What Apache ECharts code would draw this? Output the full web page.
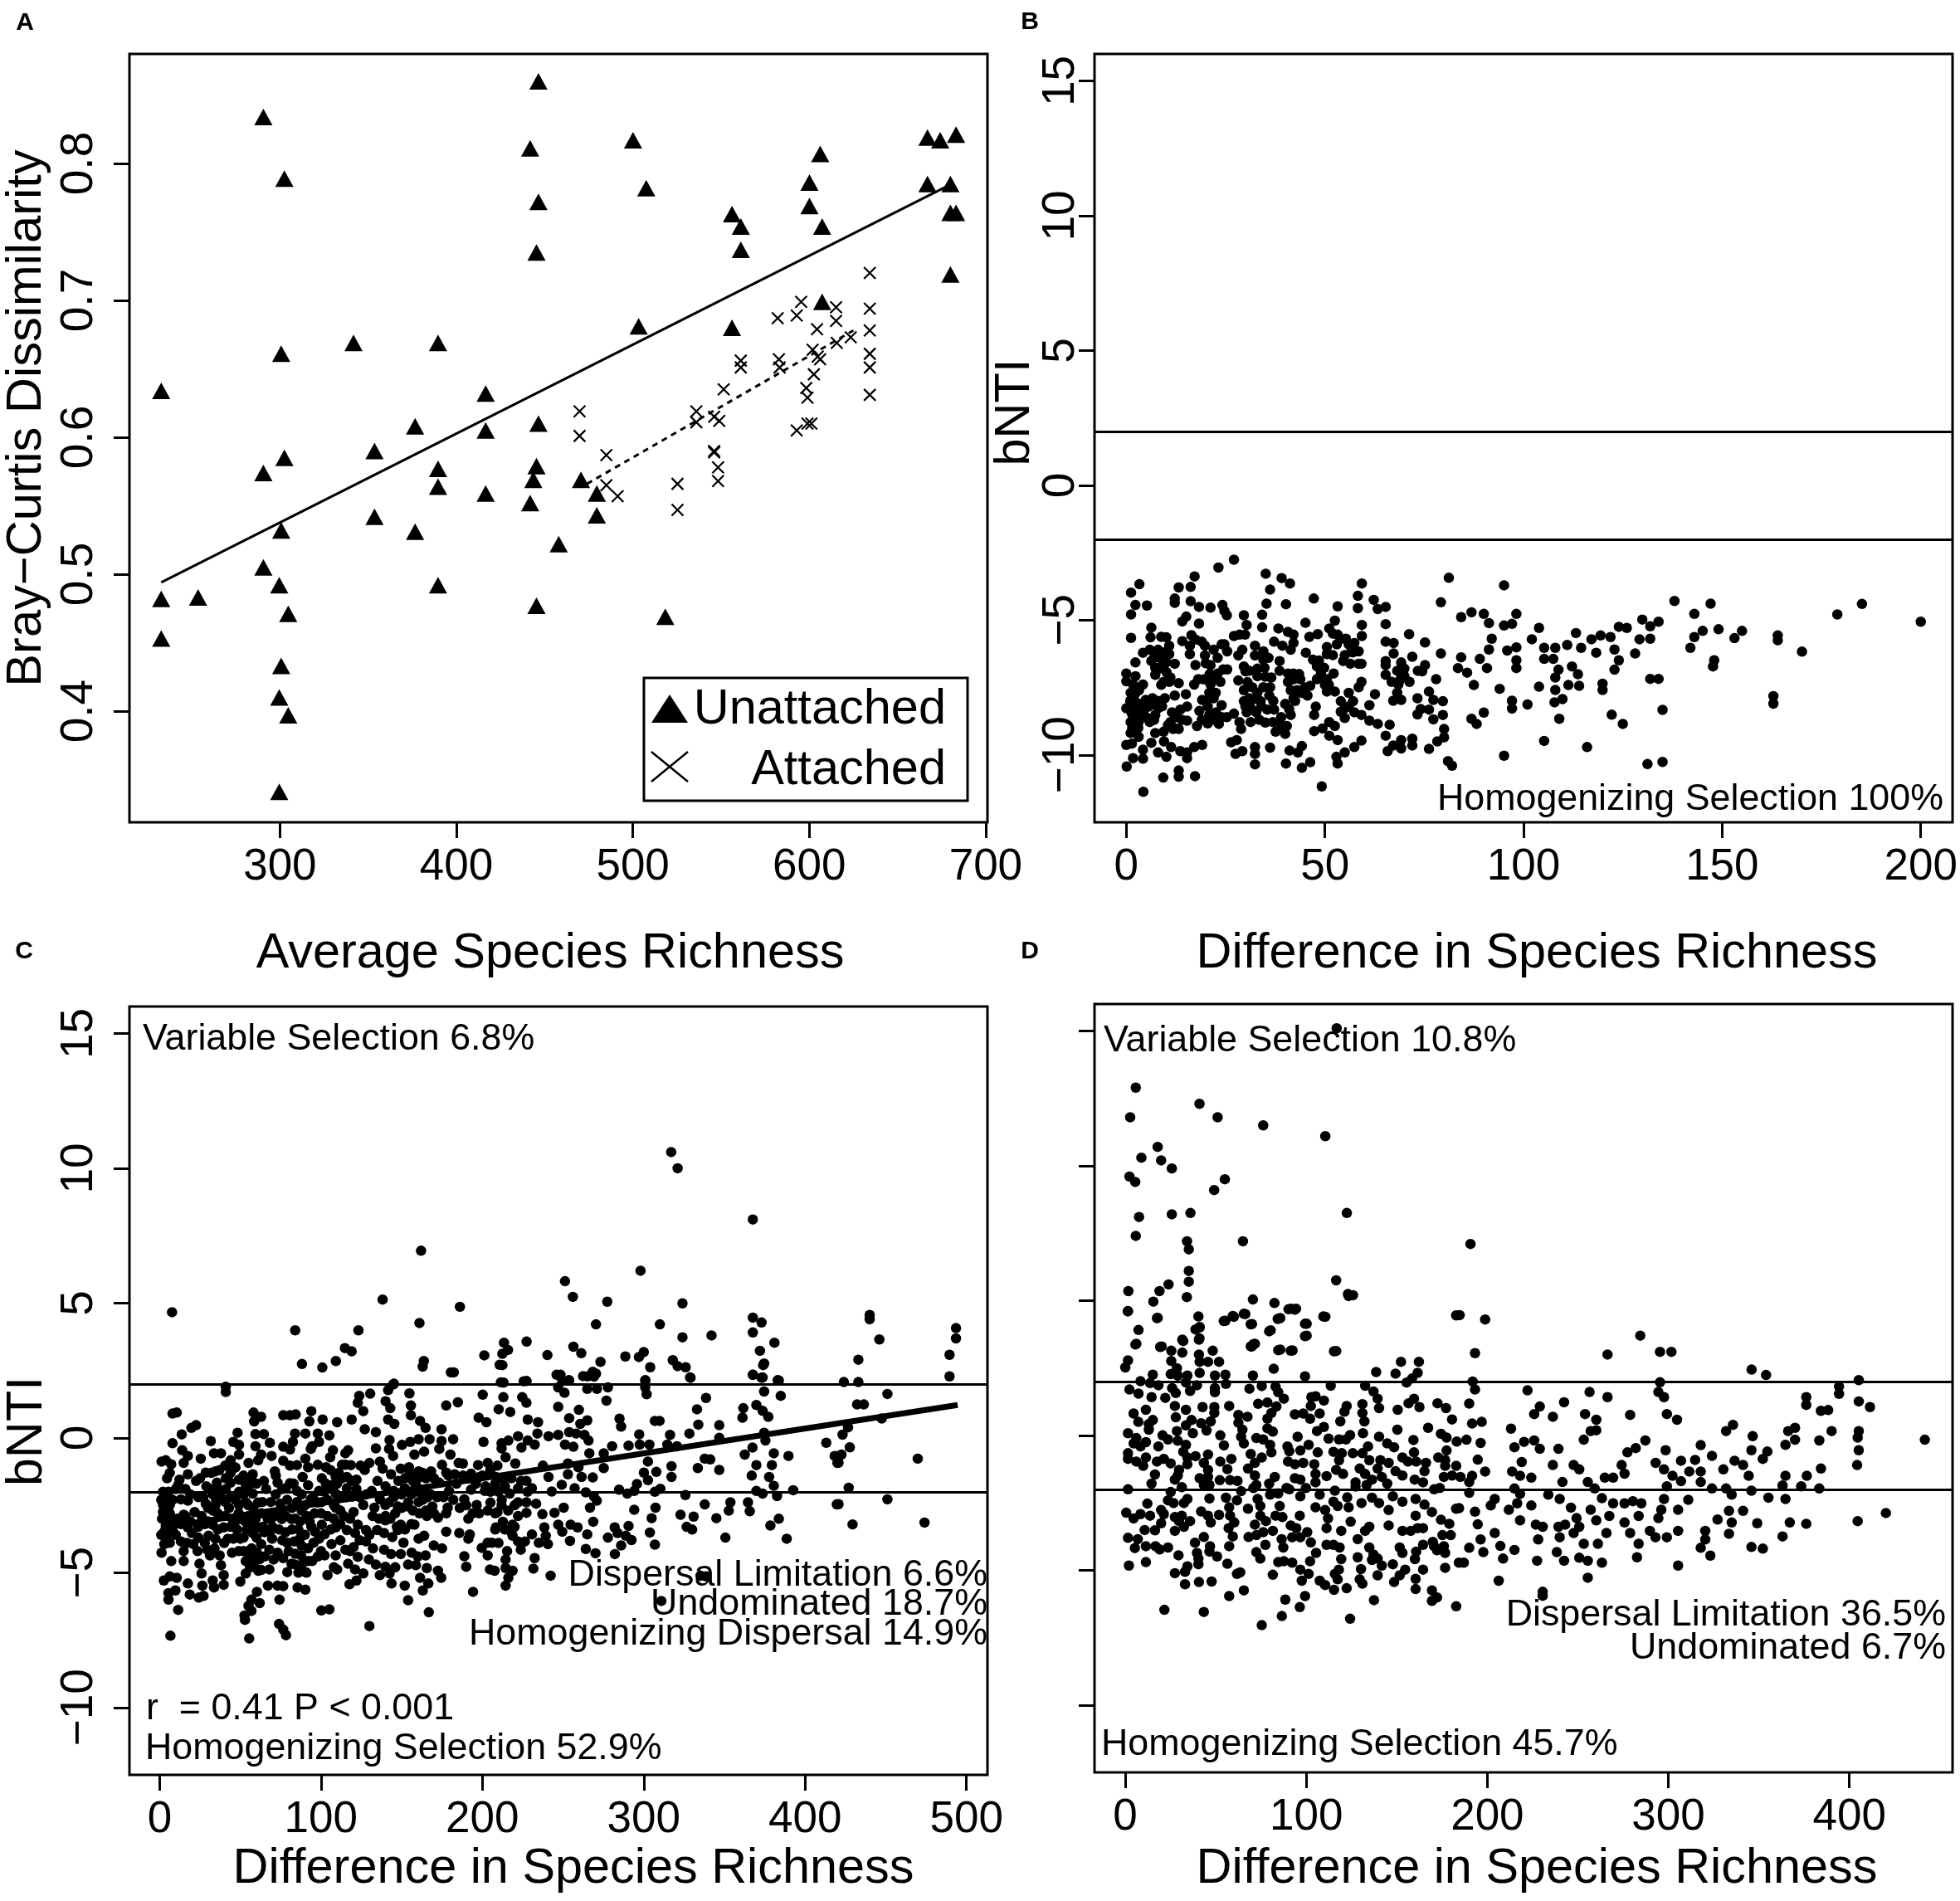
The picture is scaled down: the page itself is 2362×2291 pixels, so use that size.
<!DOCTYPE html>
<html><head><meta charset="utf-8">
<script src="https://cdn.jsdelivr.net/npm/echarts@6/dist/echarts.min.js"></script>
<style>html,body{margin:0;padding:0;background:#fff}#c{width:2362px;height:2291px}</style>
</head><body><div id="c"></div>
<script>
// ---- data: values, flat x,y,x,y lists ----
const unattached=[232.7,.634,232.7,.482,232.7,.453,253.6,.483,290.6,.834,302.5,.789,290.6,.574,302.5,.585,300.7,.661,300.7,.532,290.6,.505,299.6,.492,304.7,.471,300.7,.433,299.6,.41,304.7,.397,299.6,.341,341.7,.669,353.6,.59,353.6,.542,376.6,.608,376.6,.531,389.6,.669,389.6,.577,389.6,.564,389.6,.492,416.6,.632,416.6,.605,416.6,.559,441.8,.811,446.5,.86,446.5,.772,445.4,.735,446.5,.61,445.4,.579,443.6,.569,441.8,.552,445.4,.477,458,.522,470.6,.569,479.6,.559,479.6,.543,500.1,.817,507.6,.782,503.3,.681,518.4,.469,556.2,.763,561.2,.754,561.2,.737,556.2,.68,600.1,.786,600.1,.769,606.2,.807,607.3,.754,607.3,.699,667,.819,674.2,.817,683.2,.821,667,.785,680,.785,680,.764,683.2,.764,680,.719];
const attached=[469.8,.619,469.8,.601,485,.587,485,.565,491.4,.557,525.3,.566,525.3,.547,536,.619,536,.611,546.1,.615,549,.612,546.1,.59,546.1,.589,548.3,.578,548.3,.568,551.5,.635,561.2,.656,561.2,.651,582.1,.687,582.8,.657,583.2,.651,592.9,.689,595.4,.699,592.9,.605,598.3,.636,599,.629,599,.61,601.2,.61,601.9,.664,602.6,.646,604.4,.679,604.8,.659,606.2,.657,615.2,.695,615.2,.685,615.6,.669,623.5,.673,634.3,.72,634.3,.694,634.3,.678,634.3,.661,634.3,.651,634.3,.631];
const fitUnattached=[232.7,.494,677.5,.783];
const fitAttached=[474,.566,625,.678];
const fitC=[5,-3.3,494.5,1.22];
const thresholds=[2,-2];
const pointsB=[27.1,-2.76,23.2,-3.05,17.2,-3.38,3.3,-3.67,1.2,-3.98,13.2,-3.79,16.2,-3.77,12.2,-4.2,12.2,-4.36,16.2,-4.3,2.3,-4.44,5.2,-4.46,18.3,-4.51,21.2,-4.54,24.2,-4.44,24.7,-4.66,25.3,-4.82,1.2,-4.79,15.1,-4.87,14.1,-5.05,18.3,-5.13,6.3,-5.28,6.1,-5.64,1.2,-5.66,16.4,-5.56,14.1,-5.78,17.4,-5.72,10.1,-5.64,8.8,-5.62,16,-5.95,16,-6.26,4.2,-6.21,2.3,-6.57,5.9,-6.1,8,-6.1,10.8,-5.95,10.8,-6.26,6.3,-6.52,10.1,-6.57,12.2,-6.62,7.3,-6.77,7.3,-7.03,10.1,-6.93,11.1,-7.13,0,-6.98,0,-7.27,2.3,-7.08,4.2,-7.39,1.7,-7.39,1.1,-7.7,2.4,-7.7,2.1,-7.99,4.9,-7.96,6.6,-7.9,9.7,-7.9,5.6,-8.21,8,-8.27,0,-8.27,1.4,-8.47,3.5,-8.47,7.3,-8.52,1.1,-8.78,3.1,-8.78,5.9,-8.78,11.5,-8.42,13.6,-8.32,15.3,-8.21,11.1,-8.78,13.2,-9.04,15.3,-8.73,17.8,-8.93,20.5,-8.83,23.3,-8.85,18.4,-8.37,20.9,-8.52,24,-8.16,22.6,-8.42,11.8,-9.04,9.4,-9.14,7.3,-9.19,6.3,-9.55,1.1,-9.19,3.1,-9.33,0,-9.63,1.4,-9.58,4.2,-9.81,1.7,-10.12,4.2,-10.14,.1,-10.43,9.3,-10.84,13.2,-10.58,13.2,-10.81,17.3,-10.79,4.3,-11.37,8,-9.91,10.1,-10.07,11.3,-9.71,13.6,-9.86,15.3,-10.12,15.3,-9.91,17.1,-9.71,19.1,-9.63,13.2,-7.34,10.8,-7.29,9.4,-7.29,15,-7.75,12.2,-7.8,17.4,-6.67,18.1,-7.19,17.1,-7.39,19.8,-5.95,19.8,-6.31,21.2,-6.67,24,-5.9,25.4,-6.16,24.4,-6.83,25.4,-6.83,23,-6.98,23.7,-7.29,21.2,-7.39,19.1,-7.96,20.9,-7.08,20.9,-7.7,24.7,-5.9,27.1,-5.59,29.6,-4.82,30.3,-5.18,29.9,-5.54,28.5,-5.54,29.2,-6.1,28.2,-6.31,32.4,-5.95,32.4,-6.31,34.5,-6.16,34.5,-6.47,29.6,-6.72,31,-6.88,28.2,-7.24,33,-7.08,34.8,-6.77,36.5,-7.13,29.6,-7.6,31.7,-7.49,34.5,-7.49,36.2,-7.49,29.6,-8.01,31.7,-7.96,33.8,-8.01,30.3,-8.42,32.7,-8.42,35.5,-8.32,37.2,-8.32,31.3,-8.78,36.9,-8.78,40,-8.11,42.1,-6.98,40.7,-7.29,41.4,-7.6,44.2,-7.7,42.1,-7.9,40.4,-8.93,37.6,-9.14,40,-9.22,38.6,-8.83,41.4,-8.52,46.3,-7.44,45.6,-7.8,47.7,-8.21,47.3,-8.52,38.6,-6.52,38.6,-6.88,40.7,-6.98,43.8,-7.19,48,-7.19,50.5,-7.19,52.2,-6.98,47,-6.47,45.2,-6.21,49.8,-6.77,48,-6.72,50.5,-6,50.5,-6.26,52.5,-5.02,51.1,-5.31,53.2,-5.54,55.3,-5.69,57.4,-5.85,56.7,-6.05,58.5,-6.16,54.6,-6.52,56.4,-6.62,58.5,-6.62,59.2,-6.62,59.2,-7.29,58.5,-7.49,56,-7.7,50.5,-7.65,52.5,-7.65,61.2,-8.16,62.6,-7.75,57.1,-8.01,54,-8.01,55,-8.27,55,-8.63,57.4,-8.42,59.2,-8.52,61.2,-8.73,63.3,-8.85,47.3,-9.12,49.4,-9.02,51.1,-8.78,52.5,-8.93,51.1,-9.29,53.2,-9.45,59.2,-9.47,57.4,-9.71,55,-9.91,52.9,-10.07,53.2,-10.32,46.3,-10.27,44.2,-10.48,40.2,-10.32,44.2,-9.67,43.2,-9.91,41.1,-9.84,36.2,-9.73,32.4,-9.71,32.4,-9.96,32.4,-10.35,29.2,-9.86,27.5,-9.96,26.4,-9.53,27.8,-9.45,28.9,-9.04,28.5,-8.78,25.3,-8.6,27.1,-8.47,49.2,-11.17,35.1,-3.28,36.2,-3.87,35.3,-4.39,34.2,-4.8,34.2,-5.27,39.1,-3.44,41.2,-3.64,40.2,-4.41,38.3,-5.31,40.7,-5.44,42.1,-5.54,42.1,-5.85,37.2,-5.8,39.3,-5.95,41.4,-6.1,47.2,-4.2,45.1,-5.1,46.1,-5.62,48.2,-5.52,59.3,-3.64,58.3,-4.1,58.3,-4.56,59.3,-5.18,59.3,-5.59,53.2,-4.49,62.3,-4.25,63.3,-4.59,65.3,-4.51,65.3,-5.15,65.3,-5.8,67.3,-5.85,67.3,-6.24,65.3,-6.52,65.3,-6.67,65.3,-7.03,66.8,-7.29,68.5,-7.39,69.2,-6.57,68.2,-6.88,70,-7.08,71.3,-7.29,68.2,-7.7,67.2,-7.99,69.2,-7.96,72,-6.36,71.2,-5.52,75.2,-5.83,73.4,-6.88,75.2,-6.67,73.3,-7.9,73.3,-8.5,74.1,-8.3,76.2,-8.32,77.3,-8.68,77.3,-7.96,76.2,-7.65,78,-7.19,79.2,-6.24,66.3,-8.88,65.3,-9.29,65.8,-9.86,67.2,-9.65,69.2,-9.45,69.2,-9.76,72,-9.4,72,-9.65,76.2,-9.78,78.3,-9.5,80,-9.04,80,-9.35,79.7,-8.01,79.7,-8.52,
81.2,-3.43,79.2,-4.34,95.1,-3.71,84.3,-4.89,86.9,-4.71,90,-4.77,91.3,-5.11,98.2,-4.77,95.1,-5.2,97.1,-5.14,92,-5.69,103.9,-5.29,102.1,-5.71,91.3,-6.09,95.9,-6.13,98.2,-6.01,105.2,-6.03,108,-6.03,113.2,-5.48,111,-5.92,114.5,-6.03,117.1,-5.71,119.4,-5.57,121.9,-5.63,118.3,-6.21,122.9,-6.09,124,-5.25,126,-5.29,129.9,-4.98,134,-5.06,131.9,-5.23,129.2,-5.71,131.9,-5.69,128.1,-6.24,124,-6.49,122.9,-6.84,138,-4.29,143,-4.77,147.1,-4.39,145.1,-5.4,143,-5.63,142,-6.03,149.1,-5.34,153.1,-5.67,155,-5.4,148,-6.49,147.7,-6.72,164,-5.57,164,-5.75,170.1,-6.17,179,-4.79,185.2,-4.4,200,-5.06,162.9,-7.82,162.9,-8.1,131.9,-7.18,134,-7.18,135,-8.33,135,-10.26,131.2,-10.34,119.9,-7.36,119.9,-7.59,122.2,-8.51,125,-8.85,116,-9.71,105.2,-9.48,95.1,-10.03,82,-10.4,81,-10.23,109,-8.66,107.8,-8.05,109.8,-7.93,108,-7.59,111.3,-7.41,114,-7.44,113.7,-7.01,112.2,-6.72,108.8,-6.84,108,-7.13,107.5,-6.44,105.2,-6.44,103.9,-7.47,101,-8.13,97.1,-7.99,97.1,-8.28,94,-7.55,98.2,-6.49,98.2,-6.78,90,-8.43,86.9,-8.66,88.2,-8.85,87.5,-7.41,89,-6.44,90.8,-6.78,84.3,-6.38,83.5,-6.78,85.8,-6.95,
1,-8,2,-8.3,3,-8.1,1.8,-8.6,4.5,-8.3,5,-8.6,6.8,-8.1,8,-8,9,-8.2,7,-8.7,3,-9,1.5,-9,2,-7.5,3.2,-7.6,7,-6.4,8.5,-6.4,9,-6.7,9.5,-6.2,8.2,-6.8,8.8,-7.4,12,-9,10.5,-8.9,12.6,-8.6,14,-8.7,9.5,-9.5,19,-5.8,20,-6.6,19.5,-7.2,22,-6.1,23,-6.4,21,-7,22.5,-7.7,23,-7.2,20,-8,20.5,-8.2,22,-7.9,19,-8.7,22,-8.7,24,-8.6,30,-6.9,30.5,-7.3,33,-6.8,35.8,-6.4,31,-7.9,33,-7.7,35,-7.1,30,-8.2,34,-8.2,36,-7.8,37,-8,33.5,-8.7,31.5,-8.3,35,-8.8,42,-7.2,43,-7.6,42.5,-8,41,-8.3,39,-8.6,39,-9,43.5,-7,45,-7.5,52,-5.5,53,-5.9,54,-5.7,55,-6.3,56,-5.9,57,-6.2,52,-6.3,49,-6.9,50,-7.4,48.5,-6.5,49,-7,51,-7.4,54,-8.4,56,-8.2,70,-6.8,69,-7.2,74.5,-6.9];
const pointsC=[8,.9,10.6,.94,8,-.2,3.8,-.83,1.2,-.88,7.2,-.98,6.3,-1.3,4.6,-1.5,2.1,-2,5.5,-2,2.1,-2.49,6.3,-2.49,2.1,-2.75,6.3,-2.8,3.8,-3.27,2.9,-3.48,6.3,-3.2,2.9,-3.94,6.3,-3.89,1.2,-4.26,7.2,-4.57,2.6,-5.29,6.3,-5.14,10.6,-5.19,5.5,-5.76,9.8,-5.66,5.5,-6,11.5,-6.38,6.7,-7.34,
13.7,.13,19.7,.37,22.6,.47,14,-.46,17.5,-.67,14.9,-.93,17.5,-1.35,12.3,-1.55,22.6,-1.6,11.5,-1.76,17.5,-2.33,13.2,-2.28,21.7,-2.75,14.9,-2.85,13.2,-3.2,17.5,-3.32,20,-3.53,13.2,-3.84,20.9,-3.94,14.9,-4.2,14.9,-4.57,23.5,-4.2,17.5,-5.4,18.7,-5.81,24.3,-5.92,27.2,-5.86,26.5,-5.48,24.7,-4.67,26,-5.03,25.5,-.77,28.6,-1.29,31.7,-.12,28.6,-2.44,26,-2.9,30.3,-3.63,29.5,-4.15,32.9,-5.29,33.7,-5.55,39.7,-5.09,39.7,-5.45,38,-4.72,37.2,-4.36,31.2,-4.36,34.6,-3.74,32.9,-3.22,34.6,-2.49,40.6,-2.38,40.6,-2.9,39.7,-3.32,42.3,-3.74,44.9,-4.26,45.7,-3.74,34.6,-1.24,35.5,-1.66,33.7,-.57,38,-.57,40.6,-1.03,44,-.83,48.3,.19,45.7,-.15,49.2,-.26,49.2,-.62,45.7,-1.09,44,-1.66,49.2,-1.55,49.2,-2,53.4,-1.76,44,-2.18,49.2,-2.49,53.4,-2.38,57.7,-2.07,49.2,-3.01,55.1,-2.9,59.4,-3.01,57.7,-3.53,50,-3.74,61.1,-3.32,62.9,-3.94,55.1,-4.2,60.3,-4.26,53.4,-4.57,57.7,-4.57,53.4,-5.03,50,-5.33,61.1,-4.93,68,-4.88,60.3,-5.71,56.9,-6,62,-6.13,55.1,-6.23,56.9,-6.42,52.6,-6.59,52.9,-6.75,55.5,-7.44,58.2,.94,62.9,.78,58.6,.61,59.4,.14,64.6,.14,59.4,-.31,68.3,-.18,62.9,-.62,69.4,-.67,61.1,-.83,55.1,-.93,57.7,-1.35,64.6,-1.6,71.4,-1.24,73.1,-1.66,63.7,-2.38,68.9,-2.38,74.8,-2.44,69.7,-2.96,75.7,-3.01,81.7,-3.01,68.9,-3.42,69.7,-3.74,79.1,-3.89,83.4,-3.84,86.8,-3.74,73.1,-4.26,68,-4.15,70.6,-4.51,76.6,-4.46,81.7,-4.67,79.1,-4.98,90.3,-4.98,92,-4.57,94.5,-4.57,87.7,-4.36,67.1,-5.48,73.1,-5.48,76.6,-5.5,85.5,-5.55,90.3,-5.63,74.3,-6,100.2,-6.4,105.2,-6.36,74,-6.9,76.6,-7.11,78.3,-7.32,130,-6.98,154,-6.02,166.8,-6.47,194.2,-5.71,
76.6,.84,80.8,.84,84.3,.87,94,.99,92.8,.61,101,.68,110,.58,119,.68,123.7,1.56,122.8,1.3,130.5,1.64,126.2,.99,127.1,.32,134,.21,141.6,1.77,144.7,1.98,140,1.36,142.9,1.1,141.6,.68,145.4,.52,154.8,1.65,155.7,1.2,155.7,.84,161.4,.63,164.8,.37,174.7,.32,177.6,1.2,184.8,1.32,180.5,2.43,200.2,1.6,197.7,.75,202.5,.58,83.9,.16,90.3,.16,98,.16,105.2,.09,82.6,-.15,76.6,-.33,80.8,-.43,94.5,-.31,98.8,-.15,93.7,-.41,107.4,-.46,116.8,-.46,115.1,-.57,134,-.39,142.5,-.08,142.2,-.41,144.7,-.67,76.6,-.85,80.8,-1.03,85.1,-1.01,90.3,-.77,98,-1,92,-1.09,105.7,-.72,103.1,-1.09,115.1,-1,118.5,-1.01,124.5,-1.03,130,-.93,136.5,-.88,127.1,-1.19,150.2,-.26,155.3,-.15,160.5,-.05,157.9,-.62,163.9,-.51,167.3,-.05,174.7,-.12,181.9,-.05,173.3,-.41,180.2,-.62,185.3,-.93,187.9,-.95,197.3,-1.01,203.3,-.93,200.7,-.15,138.2,-1.14,143.4,-1.35,149.4,-1.14,154.5,-1.09,160.5,-1.24,168.2,-1.24,177.6,-1.29,182.8,-1.35,193,-1.33,198.2,-1.45,173.3,-1.66,122,-1.55,116,-1.45,109.1,-1.45,100.5,-1.5,88.6,-1.45,92,-1.76,80.8,-1.68,85.1,-1.97,78.3,-1.87,98.8,-1.97,106.5,-1.76,109.1,-2.07,116,-1.87,119.4,-2.18,131.4,-1.97,136.5,-2.28,145,-1.97,151.9,-1.87,158.8,-1.76,163.9,-1.97,179.3,-1.97,193,-1.92,201.6,-1.97,
100.5,-2.38,93.7,-2.28,85.1,-2.38,109.1,-2.59,114.2,-2.9,120.2,-2.75,126.2,-2.49,133.1,-2.59,139.9,-2.49,147.6,-2.54,153.6,-2.54,160.5,-2.38,169,-2.54,178.5,-2.59,188.8,-2.28,196.5,-2.49,203.3,-2.7,91.1,-2.9,100.5,-3.22,96.3,-3.48,102.2,-3.58,109.1,-3.32,116,-3.42,122.8,-3.22,127.9,-3.42,121.1,-3.53,134.8,-3.42,139.9,-3.06,139.1,-3.53,149.4,-3.22,147.6,-3.42,157.9,-3.22,165.6,-2.9,172.5,-2.96,177.6,-2.8,191.3,-3,177.6,-3.48,185.7,-3.53,192.2,-3.58,191.3,-3.74,95.4,-3.89,106.5,-3.94,98.8,-3.74,102.2,-4.36,109.1,-4.36,115.1,-4.15,120.2,-4.05,127.9,-3.84,132.2,-4.1,129.7,-4.51,122.8,-4.41,116.8,-4.67,110,-4.88,121.1,-4.88,126.2,-5.03,104,-5.09,117.7,-5.43,122,-5.29,136.5,-5.09,139.9,-4.78,142.5,-5.03,143.7,-5.4,151.9,-5.48,139.1,-4.15,143.4,-4.31,144.2,-3.68,151.1,-3.89,156.2,-4.26,160.5,-3.74,163.9,-3.63,149.4,-4.31,164.8,-4.36,158.8,-4.72,165.6,-4.83,172.5,-4.93,174.5,-5.19,161.4,-5.19,166.5,-5.4,163.1,-5.66,169.9,-3.99,175,-4.1,188.8,-4.39,190,-4.78,199.6,-4.08,203.3,-3.89,203.3,-4.36,204.7,-4.88,
210.7,2.71,211.5,2.06,225.6,2.1,246,2.34,249.5,2.13,253.8,2.13,262.4,2.29,268.4,2.45,269.2,2.27,265,1.82,271,1.82,277.8,1.87,247,1.87,250.9,1.67,213,1.51,224.7,1.51,227.3,1.3,276.9,1.38,300.9,2.13,300.9,1.87,301.8,1.62,328.7,2.24,338.6,1.48,333,1.06,210.1,1.06,217.3,.96,247,1.15,259.8,1.04,253.8,.73,228.1,.68,234.5,.58,265,.65,260.7,.52,285,.71,286,.42,306.9,.63,309.8,.63,333.8,.49,346.8,.47,361.7,1.1,361.2,.75,369.8,1.22,373.7,1,377.2,.78,367.7,2.34,373.7,2.24,383.7,2.13,374.6,1.72,384.9,1.56,374.6,2.76,234.1,.16,241,.06,247,.11,253.8,.21,258.1,.16,263.2,.11,265.8,-.1,222.1,.06,228.1,-.1,216.1,-.1,211.9,-.2,211.9,-.39,224.2,-.36,232.4,-.25,251.2,-.25,256.4,-.33,297.2,.13,316.3,.11,328.3,.16,374.6,.19,375.4,-.1,346.8,0,290.6,-.29,297.5,-.25,303.5,-.25,314.6,-.25,320.6,-.31,280.4,-.31,275.2,-.57,266.3,-.57,413.1,-.18,418.3,-.67,420,-.93,389.7,-.67,380.6,-.57,367.4,-.36,362.6,-.62,214.4,-.72,220.4,-.95,237.5,-1.03,253,-.95,259.5,-1.09,275.2,-1.12,302.6,-.88,317.2,-1.05,337.8,-.77,341.2,-.8,333.5,-1.12,346.8,-1.19,369.8,-1.01,379.4,-1.01,209.3,-1.03,208.4,-1.45,215.3,-1.45,227.3,-1.6,230.7,-1.87,241,-1.45,253,-1.35,249.2,-1.74,261.5,-1.45,268.4,-1.47,300.1,-1.29,307.8,-1.26,317.2,-1.45,302.6,-1.57,295.8,-1.71,366.9,-1.4,377.7,-1.45,380.6,-1.78,217,-2.07,222.1,-1.87,243,-1.99,257.2,-1.87,264.1,-2.02,269.2,-2.18,284.7,-1.92,289.8,-2.07,294.1,-1.97,306.9,-2,310.3,-1.89,325.8,-2.12,369.8,-1.97,373.7,-2.07,382.6,-2.16,392.6,-1.94,222.1,-2.39,227.3,-2.39,233.3,-2.44,211.9,-2.49,209.3,-2.75,227.3,-2.78,266.7,-2.59,270.9,-2.33,250.4,-2.59,244.7,-2.78,237.2,-2.83,294.1,-2.67,307.3,-2.59,337.8,-2.47,353.7,-2.39,352.7,-2.7,364.6,-2.39,365.7,-2.72,419.6,-2.47,212.7,-3.11,222.1,-2.9,218.7,-3.22,208.4,-3.32,247,-3.22,254.7,-3.22,259,-3.32,268.7,-3.11,238.4,-3.32,249.5,-3.48,304.9,-2.98,322.8,-2.85,330.9,-2.92,345,-2.98,326.6,-3.3,330,-3.4,383.7,-3,378.5,-3.25,282,-3.32,290.6,-3.27,230.7,-3.58,239.3,-3.63,265,-3.58,254.3,-3.82,218.7,-3.63,222.1,-3.84,226.4,-3.84,235,-3.89,240.6,-3.94,303.8,-3.51,277.8,-3.7,283.8,-3.53,288.9,-3.63,292.4,-3.79,286,-3.99,350.6,-3.7,388.6,-3.74,306.9,-3.96,205.9,-3.89,223.8,-4.15,215.3,-4.2,264.1,-4.12,270.1,-4.28,282.1,-4.31,232.4,-4.46,214.4,-4.51,214.4,-4.83,231.6,-4.85,242.3,-5.11,207.6,-4.93,218.7,-4.93,216.1,-5.19,214.4,-5.48,335.2,-5.11,338.6,-5.14,310.9,-6.05,
7.7,4.66,41,1.9,41,1.7,84,3.99,88.2,2.74,100.8,2.61,109.2,2.85,114.8,3.33,119,3.21,123.2,3.99,138.2,5.13,145.2,2.01,161,4.26,162,6.94,163.7,2.85,163,2.64,182.3,2.43,186.1,4.86,201.2,3.06,212.4,2.7,212.4,3.12,215.9,3.26,213.4,3.53,213.1,2.05,227.4,3.57,227.4,2.11,240.3,3.07,251.2,5.81,256.1,5.23,256.4,3.38,261.3,3.14,248.4,2.34,253.6,2.14,270.4,4.21,277.4,5.05,273.2,2.82,265.2,2.28,270.4,2.38,288.6,3.02,297,3,300,3.18,298,6.2,310,4.21,304,2.62,301,2.14,317,10.6,321,10,324,4.99,324,3.73,318,2.88,321,2.66,326,2.62,329,2.23,342,3.8,367.6,8.1,367.6,4.46,373,4.28,367.6,3.91,381,3.53,372,3.23,374,2.7,367.6,2.34,373,2.23,383,2.14,433,2.9,424,2.07,433,2.07,440,4.4,440,4.56,446,3.65,489.5,3.08,489.5,2.28,493.5,4.07,493.5,3.69,
419,-.68,422.5,-.62,420.7,-.92,423.2,.12,426.6,.39,427.7,-.35,432.2,1.24,436.4,1.24,447.5,.72,451,1.63,469.8,-.77,427,-1.85,420.7,-2.46,429.4,-3.21,451,-2.28,474,-3.14,
1,-2.3,3,-2.2,4.5,-2.6,8,-2.3,1.5,-3,4,-3.05,8,-3,1,-3.6,4.5,-3.6,8.5,-3.5,3,-2.9,27,-2.2,30,-2.6,33,-2.1,36,-2.8,38,-2.2,41,-1.9,43,-2.6,45,-3,47,-2.3,49,-2.8,52,-2.1,53,-3.1,55,-1.8,55,-2.5,58,-2.6,58,-3.2,60,-1.7,61,-2.4,63,-2.8,64,-3.3,66,-1.9,67,-3,44,-1.3,47,-1.1,52,-1.4,56,-1.6,41,-1.5,37,-1.2,31,-1.9,35,-2.3,48,-3.4,52,-3.7,46,-3.2,54,-3.4,60,-3.7,65,-3.5,52,-4.2,55,-4.5,57,-4.1,59,-4.8,62,-4.5,63,-4.9,56,-4.8,60,-4.3,65,-4.4,72,-1.4,76,-1.9,79,-2.3,72,-2.1,83,-1.7,88,-2.1,90,-2.5,82,-2.6,78,-2.9,87,-3.1,93,-3.1,96,-2.8,74,-3.4,78,-3.5,82,-3.4,86,-3.4,90,-3.6,80,-4.2,84,-4.3,88,-4,92,-4.1,84,-4.7,88,-4.7,91,-5,86,-5,103,-1.7,107,-1.9,110,-1.7,113,-1.5,116,-2.2,119,-1.6,122,-1.9,112,-2.2,104,-2.3,108,-2.5,111,-1.3,106,-1.2,113,-1,100,-2.8,104,-2.9,118,-3,112,-3.2,135,-1.6,140,-1.8,148,-1.6,152,-1.5,155,-1.3,157,-1.6,160,-1.5,163,-1.3,165,-1.5,156,-2.1,160,-2,163,-2.3,166,-2.2,154,-2.4,157,-2.7,161,-2.8,165,-2.7,168,-2.1,142,-2.4,146,-2.8,150,-2.6,143,-3,147,-3.3,140,-2.9,170,-1.5,172,-2.2,175,-1,179,-1.4,184,-1.7,188,-1.4,192,-1.5,196,-1.7,200,-1.4,186,-2.6,190,-2.5,194,-2.8,198,-2.8,202,-1.8,205,-1.2,208,-1.7,212,-1.5,205,-2,210,-2,214,-1.8,218,-1.5,205,-2.4,208,-2.8,212,-2.3,216,-2.7,220,-2.5,208,-3.4,214,-3.4,218,-3.5,210,-3.9,220,-3.3,224,-1.6,228,-2,
10,-1.9,16,-1.9,19,-2.1,24,-2.2,25,-1.5,29,-1.8,32,-1.3,36,-1.9,11,-3,16,-2.9,19,-3.1,24,-3.3,28,-3.2,30,-3.1,33,-2.7,36,-3.4,10,-3.6,17,-3.9,24,-3.7,28,-3.9,34,-4.1,40,-3.9,44,-3.3,47,-3.7,49,-4.2,70,-3.3,74,-2.9,76,-3.8,84,-3,88,-2.7,95,-2.2,98,-2.4,102,-2,108,-3,112,-2.7,124,-2.2,128,-2.1,132,-2.9,136,-3,130,-3.6,124,-3.8,118,-4.2,112,-3.8,106,-3.4,145,-2.2,150,-2.1,156,-3.2,152,-3.4,170,-2.8,176,-2.2,182,-2.3,100,-4.2,94,-3.3,98,-4.4,108,-4.8,134,-4.7,146,-4.8,154,-4.7,160,-4.4];
const pointsD=[116.8,15.1,5.8,12.9,2.7,11.8,41,12.3,51,11.8,76.2,11.5,110.5,11.1,17.9,10.7,8.9,10.3,19.8,10.2,25.7,9.9,2.3,9.6,5.5,9.4,55,9.5,49.1,9.1,7.6,8.1,25.7,8.2,36,8.25,122.4,8.25,5.8,7.4,65,7.2,34.1,7.2,35.1,6.9,190.7,7.1,35.1,6.1,35.1,5.7,116.5,5.75,123,5.24,125.8,5.2,23.9,5.6,18.9,5.35,1.7,5.35,
1.5,4.61,15.5,4.96,17.5,4.35,34,5.13,7.3,3.91,5.6,3.37,19.3,3.28,31.5,3.55,40.4,4.41,41.1,4.02,38.8,3.93,40.7,3.55,25.4,3.14,31.5,3.07,40.7,3,48.3,3.14,54.4,4.24,59.4,4.43,65.5,4.51,69.3,4.12,70.5,5.04,82.4,4.91,90.2,4.68,93.7,4.66,84.2,4.32,79.5,3.86,99.3,4.14,99.3,3.68,109.4,4.41,123.4,5.17,70.8,3.38,69.3,3.3,84.5,3.16,91.4,3.14,115.3,3.12,182.8,4.45,
1.5,2.78,0,2.52,15.2,2.25,25.4,2.76,28.5,2.49,25.1,2.27,29,2.22,34.3,2.22,41.1,2.73,45.7,2.73,51.8,2.73,41.1,2.32,49.5,2.22,55.3,2.25,70.5,2.22,82,2.47,99.3,2.19,138.6,2.35,149.3,2.29,152.3,2.73,162.2,2.73,161.5,2.32,158.4,2.11,155.4,1.96,
8.4,2.01,13.7,1.94,18.3,1.86,2.3,1.7,7.3,1.55,14.5,1.42,22.1,1.39,25.9,1.75,27.9,1.57,33.5,1.96,35.8,1.65,39.6,1.86,49.5,1.75,49.5,1.6,55.6,1.91,68.6,1.73,75.4,1.83,83,1.81,84.5,1.6,87.6,1.36,113.5,1.84,132.5,1.84,137.1,1.63,139.4,1.36,105.1,1.45,102.8,1.42,109.7,1.29,131,1.16,
27.4,1.09,33.5,.95,42.7,1.05,49.2,1.05,57.4,1.09,73.4,1.17,78.5,1.22,83.5,1.07,102.5,1.09,122.3,1.09,140.2,1.01,150.5,.95,156.5,1.19,159.5,1.36,162.5,1.05,172.5,1.19,177.2,1.01,180.5,.59,
4.6,.81,11.4,.95,7.2,.5,15.2,.57,13,.42,13,.21,27.9,.67,36.6,.57,33.5,.37,41.9,.45,47.2,.52,44.9,.18,28.5,.16,37.3,.08,49.2,.83,62.5,.76,67.5,.69,62.5,.47,64.7,.21,64,-.05,78.5,.62,80.7,.83,78.5,.26,81.5,.14,93.7,.78,98.3,.81,102.1,.62,107.4,.81,121.1,.88,118.8,.52,131,.83,132.1,.52,109.7,.31,105.9,.16,150.3,.21,167.3,.28,174.4,.06,177.5,-.08,131.3,.08,95.2,-.05,52.5,0,
1.5,.08,6.1,-.1,4.6,-.3,8.4,-.41,11.4,-.25,18.3,-.41,20.6,0,23.6,-.15,29,-.2,33.5,-.35,54.5,-.37,65.5,-.3,72.4,-.1,76.2,-.15,80,-.35,80.7,-.63,89.6,-.41,90.6,-.59,96.7,-.56,101.3,-.35,106.3,-.63,112.3,-.12,118.1,-.15,124.2,.01,121.9,-.15,140.2,-.05,144.7,-.3,148.5,-.44,159.2,-.17,159.5,-.63,177.5,-.56,183.1,-.23,
1.5,-.66,1.5,-.87,6.1,-.97,9.9,-1.13,11.4,-.82,17.5,-.97,21.3,-.87,25.1,-1.04,32,-.61,34.3,-.82,38.8,-.77,45.7,-.71,34.3,-1.07,43.4,-1.02,52.5,-.97,58.6,-.87,56.4,-1.25,69.3,-.69,75.4,-.82,71.6,-1.02,67.8,-1.23,89.9,-.97,93.7,-1.07,98.3,-1.02,104.4,-1.07,115,-.61,119.6,-.66,125.7,-.66,118.1,-.92,131,-.66,134.1,-.41,134.8,-.92,129.5,-1.23,140.9,-.92,145.5,-1.02,139.4,-1.23,153.1,-.82,156.2,-.97,160.7,-.97,166.1,-1.02,165.3,-1.33,172.9,-.82,176.7,-.92,176.7,-1.13,182.8,-1.13,149.3,-1.33,
29.7,-1.28,29,-1.49,16.4,-1.45,14.5,-1.79,45.7,-1.28,41.1,-1.59,45.7,-1.54,27.4,-1.64,31.2,-1.92,43.4,-1.84,46.5,-1.84,52.2,-1.66,57.9,-1.66,62,-1.69,71.6,-1.49,72.4,-1.84,82.6,-1.54,79.5,-1.79,93.7,-1.59,96.7,-1.64,105.1,-1.43,105.1,-1.74,111.2,-1.51,116.5,-1.28,120.3,-1.43,127.2,-1.74,132.5,-1.43,136.3,-1.64,133.3,-1.84,141.7,-1.54,144.7,-1.79,153.1,-1.49,159.9,-1.64,164.5,-1.74,176,-1.54,180.5,-1.49,185.1,-1.54,
1.5,-2,25.1,-2.1,64,-2.07,70.8,-1.95,89.1,-1.95,80,-2.2,84.5,-2.15,90.6,-2,96.7,-2.26,99.8,-1.95,107.4,-2.2,115.8,-2.05,115,-2.46,122.6,-2.3,127.2,-1.9,136.3,-2.31,147.8,-2.26,170.6,-2,173.7,-1.95,
12.2,-2.53,23.6,-2.41,26.7,-2.51,34.3,-2.36,32.4,-2.51,46.5,-2.34,55.6,-2.31,57.4,-2.67,61.7,-2.41,67.8,-2.72,73.1,-2.36,74.6,-2.62,85.3,-2.62,105.1,-2.67,110.4,-2.77,117.3,-2.62,123.4,-2.67,130.5,-2.51,140.2,-2.51,145.5,-2.77,153.1,-2.46,160.4,-2.36,165.3,-2.57,169.4,-2.84,182.8,-2.72,
.5,-2.87,4.6,-3.08,8.4,-2.92,13.7,-2.98,19.8,-2.77,21.3,-2.92,19.8,-3.26,27.4,-3.03,31.2,-2.98,29.7,-3.18,35.8,-3.18,32.4,-3.39,41.9,-2.82,45.7,-2.98,47.2,-3.23,51.8,-2.95,57.9,-2.98,60.2,-3.23,57.1,-3.44,74.6,-2.98,77.7,-3.18,83,-2.98,86.8,-3.03,81.5,-3.54,71.6,-3.31,96.4,-2.98,91.4,-3.34,94.5,-3.44,100.5,-3.59,112,-3.08,111.2,-3.44,124.5,-3.2,119.3,-3.54,134.8,-3.39,132.5,-3.54,145.5,-3.34,160.4,-2.98,174.4,-3.13,179,-3.28,153.1,-3.54,157.7,-3.54,161.5,-3.44,164.5,-3.44,175.2,-3.7,179.8,-3.7,
10.7,-3.51,16.4,-3.52,27.4,-3.54,1.5,-3.8,6.9,-3.85,43.4,-3.77,38.5,-3.98,59.4,-3.75,68.1,-3.77,72.4,-3.7,76.2,-3.59,86.4,-3.85,92.2,-3.78,96.7,-3.78,102.5,-3.97,111.2,-4.06,115,-4.06,118.4,-4.16,128.4,-3.85,169.9,-3.95,164.5,-4.06,
5.3,-4.18,11.4,-4.11,16.7,-4.11,19,-4.23,23.6,-4.16,29.4,-4.45,39.6,-4.36,40.4,-4.57,46.8,-4.11,46.5,-4.31,50.7,-4.49,57.4,-4.11,77.4,-4.06,87.3,-4.16,72.4,-4.33,74.6,-4.57,105.4,-4.36,134.8,-4.16,137.1,-4.42,139.4,-4.57,136.3,-4.62,128.4,-4.52,119.3,-4.59,151.6,-4.16,153.1,-4.36,160.7,-4.31,160,-4.59,170.6,-4.11,176,-4.11,172.2,-4.26,176.7,-4.36,
2,-4.83,11.4,-4.7,27.4,-5.11,34.3,-4.86,33,-5.06,40.4,-4.78,56.4,-4.76,61.7,-5.14,63.5,-5.08,81.5,-5.17,84.5,-4.7,87.6,-4.67,92.2,-4.72,96.7,-4.98,102.1,-4.67,101.3,-5.14,97.5,-5.39,118,-4.98,115.8,-5.14,117.3,-5.34,130.2,-4.96,139.4,-5.19,141.7,-4.83,147.8,-4.78,154.6,-4.98,151.6,-5.19,164.5,-4.98,176.7,-4.91,148.5,-5.44,160.4,-5.32,184.3,-4.72,
33,-5.52,40.7,-5.44,47.7,-5.42,107.4,-5.39,110.4,-5.55,115.3,-5.73,122.3,-5.67,129.5,-5.34,131,-5.5,160.4,-5.7,169.4,-5.75,172.2,-6.01,169.4,-6.14,57.4,-5.96,65.5,-5.75,99.3,-5.96,88.4,-6.09,96.4,-6.37,137.4,-6.11,182.8,-6.34,21.6,-6.47,43.4,-6.55,86.5,-6.7,75.4,-7.04,124.2,-6.8,
1.4,4.6,17.9,4.36,191.9,2,193.2,1.7,190,1.18,196.9,.5,191.6,.44,188.5,-.16,196.3,-.28,194.7,-.9,198.8,-1.34,191.6,-1.5,190,-2.13,190,-1.73,204.1,-2.36,201.9,-2.6,193.2,-2.83,184.4,-2.7,194.7,-3.3,204.1,-3.62,196.3,-3.86,190,-4.17,197.8,-4.33,207.2,-4.1,215,-4.25,208.7,-4.57,206.3,-5.39,187,-4.72,213.1,.25,215,-.44,220.3,-.24,225.9,-.19,229,-.5,239.3,-.5,219,-.99,236.2,-1.1,222.2,1.67,225.9,.79,229,1.07,236.2,.69,242.4,1.23,213.7,-1.34,218.1,-1.5,224.3,-1.57,215,-1.97,218.1,-2.17,233.7,-2.2,240,-2.36,241.5,-1.73,247.7,-1.1,250.8,-1.26,255.5,-1.73,259.3,-1.97,264.9,-1.57,269.5,-1.57,274.2,-1.1,275.8,-1.42,277.4,-.63,282,-.47,287.3,-.19,298.5,-.55,253.3,-.16,257.1,.16,260.2,.19,254,.79,260.2,.58,256.5,1.61,266.4,1.42,278.9,.76,295.4,1.97,294.5,1.61,297.6,1.42,299.2,.79,304.8,.58,317.9,-.36,314.8,-.91,307,-.94,324.1,-.76,311.6,-1.34,317.9,-1.34,293,-1.02,297.6,-1.26,302.3,-1.5,299.2,-1.89,307,-1.7,317.9,-1.73,324.1,-1.97,331.9,-1.97,330.4,-1.26,336.6,-.94,341.3,-1.1,345.9,-.55,344.4,-1.5,352.2,-.87,354.7,-.6,346.6,-.03,331.9,.16,335.7,.39,364.7,-.35,366.2,.16,370,.28,370,-.16,383.4,-.19,390.2,.16,404.6,-.08,405.2,.16,405.2,-.55,404.3,-1.1,384.3,-1.23,376.5,-1.5,364.7,-1.5,363.1,-1.86,373.4,-1.89,383.4,-1.97,376.2,1.13,384.3,.91,388.3,.94,394.3,1.81,394.3,1.54,405.2,2.05,405.2,1.26,411.4,1.05,346,2.44,354,2.24,376.2,1.42,441.7,-.16,420.2,-2.88,404.6,-3.18,376.2,-3.28,367.1,-3.23,363.1,-3.75,364.7,-2.36,355.3,-2.31,349.1,-3.26,345.9,-4.14,352.2,-4.2,333.5,-2.8,341.3,-2.8,335,-3.23,333.5,-3.65,327.2,-3.12,335,-2.2,345.9,-2.05,320.4,-3.54,320.4,-3.86,317.9,-4.17,323.2,-4.46,305.4,-2.76,305.4,-3.54,299.2,-3.78,305.4,-4.83,294.5,-3.07,296.1,-2.76,297.6,-2.36,311,-2.39,289.8,-3.54,292.9,-3.78,283.6,-4.02,282.7,-4.52,275.8,-3.23,278.9,-3.62,283.6,-2.99,285.1,-2.52,280.4,-2.44,275.8,-2.52,269.5,-2.52,263.3,-2.33,267.4,-2.99,265.8,-3.62,257.1,-2.76,260.2,-3.15,253.3,-4.02,261.1,-4.02,250.8,-4.54,255.5,-4.65,263.3,-4.72,255.5,-5.28,246.2,-2.68,249.3,-3.07,250.8,-3.39,247.7,-3.62,243,-3.31,239.3,-3.39,240,-3.78,238.4,-4.33,242.4,-4.65,227.5,-4.65,226.8,-3.31,230.6,-3.39,228.1,-3.86,218.1,-3.15,224.3,-2.6,216.5,-2.52,211.9,-2.76,230.6,-5.8,230.6,-5.95,
6.1,3.4,20.1,3.3,32,3.5,41,4,41,3.6,55.3,4.25,60,4.4,66.3,4.5,70,4.13,71.6,3.4,70,3.3,80.3,3.9,85.6,4.35,85.6,3.18,91.8,4.7,94.3,4.7,92.4,3.15,100.2,4.14,100.2,3.7,110.5,4.4,116.5,3.13,184.7,4.46,198.8,4.3,193.2,3.05,284.5,3.7,266.4,3,295.4,3.1,301.7,3.1];
const ticksAx=[300,400,500,600,700], ticksAy=[0.4,0.5,0.6,0.7,0.8];
const ticksBx=[0,50,100,150,200], ticksCx=[0,100,200,300,400,500], ticksDx=[0,100,200,300,400];
const ticksY=[-10,-5,0,5,10,15];

const pairs=f=>{const r=[];for(let i=0;i<f.length;i+=2)r.push([f[i],f[i+1]]);return r;};
const chart=echarts.init(document.getElementById('c'),null,{renderer:'canvas'});
const FONT='"Liberation Sans",Arial,sans-serif', TICKFS=53, BK='#000';
const minus=v=>String(v).replace('-','\u2212');
const boxes=[{left:156,top:65,width:1034,height:926},{left:1319,top:65,width:1034,height:926},{left:156,top:1213,width:1034,height:926},{left:1319,top:1210,width:1034,height:926}];
const grids=boxes.map(b=>({...b,show:true,borderColor:BK,borderWidth:3,backgroundColor:'#fff',containLabel:false}));
const xa=(i,min,max,ticks)=>({gridIndex:i,type:'value',min,max,splitLine:{show:false},
  axisLine:{show:false,onZero:false},axisTick:{show:true,length:19,inside:false,customValues:ticks,lineStyle:{color:BK,width:3}},
  axisLabel:{show:true,customValues:ticks,margin:28,fontSize:TICKFS,fontFamily:FONT,color:BK,hideOverlap:false,showMinLabel:true,showMaxLabel:true,formatter:minus}});
const ya=(i,min,max,ticks,showLabel,fmt,margin)=>({gridIndex:i,type:'value',min,max,splitLine:{show:false},
  axisLine:{show:false,onZero:false},axisTick:{show:true,length:19,customValues:ticks,lineStyle:{color:BK,width:3}},
  axisLabel:{show:showLabel,customValues:ticks,rotate:90,margin:margin||33,fontSize:55,fontFamily:FONT,color:BK,hideOverlap:false,showMinLabel:true,showMaxLabel:true,formatter:fmt||minus}});
const dots=(i,d)=>({type:'scatter',xAxisIndex:i,yAxisIndex:i,data:pairs(d),symbol:'circle',symbolSize:12.5,itemStyle:{color:BK,opacity:1},silent:true,z:3,animation:false,large:false,
  markLine:{silent:true,symbol:'none',animation:false,label:{show:false},lineStyle:{color:BK,width:3,type:'solid'},data:thresholds.map(v=>({yAxis:v}))}});
const fit=(i,d,width,type)=>({type:'line',xAxisIndex:i,yAxisIndex:i,data:pairs(d),showSymbol:false,symbol:'none',silent:true,z:4,animation:false,lineStyle:{color:BK,width,type}});
const txt=(x,y,s,o={})=>({type:'text',x,y,z:50,silent:true,rotation:o.rot||0,style:{text:s,fontFamily:FONT,fontSize:o.fs||44.8,fontWeight:o.fw||'normal',fill:BK,align:o.align||'left',verticalAlign:'middle'}});
const X=(x,y,s)=>txt(x,y,s,{align:'center',fs:59.4});
const graphic=[
 txt(30,28,'A',{align:'center',fs:30,fw:'bold'}),txt(1241,27,'B',{align:'center',fs:30,fw:'bold'}),
 txt(29,1147,'C',{align:'center',fs:30,fw:'bold'}),txt(1241,1147,'D',{align:'center',fs:30,fw:'bold'}),
 X(663,1150,'Average Species Richness'),X(1852,1150,'Difference in Species Richness'),
 X(691,2253,'Difference in Species Richness'),X(1852,2253,'Difference in Species Richness'),
 txt(33,504,'Bray\u2212Curtis Dissimilarity',{align:'center',fs:59.6,rot:Math.PI/2}),
 txt(1224,497,'bNTI',{align:'center',fs:59.5,rot:Math.PI/2}),
 txt(33,1725,'bNTI',{align:'center',fs:61,rot:Math.PI/2}),
 txt(2342,964,'Homogenizing Selection 100%',{align:'right'}),
 txt(172,1253,'Variable Selection 6.8%'),
 txt(1190,1899,'Dispersal Limitation 6.6%',{align:'right'}),
 txt(1190,1934,'Undominated 18.7%',{align:'right'}),
 txt(1190,1970,'Homogenizing Dispersal 14.9%',{align:'right'}),
 txt(176,2060,'r\u00a0\u00a0= 0.41 P < 0.001'),
 txt(175,2108,'Homogenizing Selection 52.9%'),
 txt(1330,1255,'Variable Selection 10.8%'),
 txt(2345,1947,'Dispersal Limitation 36.5%',{align:'right'}),
 txt(2345,1987,'Undominated 6.7%',{align:'right'}),
 txt(1327,2103,'Homogenizing Selection 45.7%'),
 {type:'rect',z:40,silent:true,shape:{x:776,y:817,width:390,height:148},style:{fill:'#fff',stroke:BK,lineWidth:3}},
 {type:'polygon',z:41,silent:true,shape:{points:[[785,871],[829,871],[807,837]]},style:{fill:BK}},
 {type:'polyline',z:41,silent:true,shape:{points:[[785,906],[829,942]]},style:{fill:'none',stroke:BK,lineWidth:2.5}},
 {type:'polyline',z:41,silent:true,shape:{points:[[829,906],[785,942]]},style:{fill:'none',stroke:BK,lineWidth:2.5}},
 txt(1140,856,'Unattached',{align:'right',fs:59.5}),
 txt(1140,929,'Attached',{align:'right',fs:59.5})
];
chart.setOption({animation:false,backgroundColor:'#fff',grid:grids,
 xAxis:[xa(0,214.7,701,ticksAx),xa(1,-8,208,ticksBx),xa(2,-18.7,513,ticksCx),xa(3,-17,457,ticksDx)],
 yAxis:[ya(0,0.3188,0.88,ticksAy,true,v=>String(v)),ya(1,-12.5,16,ticksY,true,null,13),ya(2,-12.5,16,ticksY,true),ya(3,-12.5,16,ticksY,false)],
 series:[
  {type:'scatter',name:'Unattached',xAxisIndex:0,yAxisIndex:0,data:pairs(unattached),symbol:'triangle',symbolSize:[22,20],itemStyle:{color:BK,opacity:1},silent:true,z:3},
  {type:'scatter',name:'Attached',xAxisIndex:0,yAxisIndex:0,data:pairs(attached),symbol:'path://M0,0L10,10M10,0L0,10',symbolSize:14,itemStyle:{color:'none',borderColor:BK,borderWidth:2.2,opacity:1},silent:true,z:3},
  fit(0,fitUnattached,3,'solid'),fit(0,fitAttached,3,[7,6]),
  dots(1,pointsB),dots(2,pointsC),fit(2,fitC,7,'solid'),dots(3,pointsD)
 ],graphic});
</script></body></html>
